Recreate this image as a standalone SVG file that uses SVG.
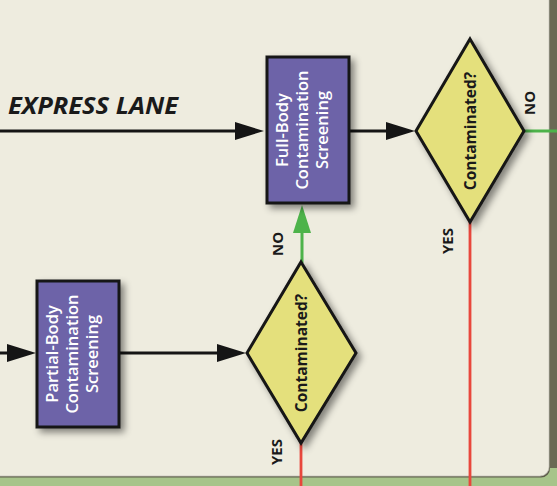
<svg xmlns="http://www.w3.org/2000/svg" width="557" height="486" viewBox="0 0 557 486">
  <style>
    .box { fill: #6d64a8; stroke: #151515; stroke-width: 3; }
    .dia { fill: #e4e07c; stroke: #151515; stroke-width: 3; stroke-linejoin: miter; }
    .btxt { font-family: "Open Sans", "DejaVu Sans", sans-serif; font-weight: 600; font-size: 16.5px; fill: #ffffff; text-anchor: middle; }
    .dtxt { font-family: "Open Sans", "DejaVu Sans", sans-serif; font-weight: 700; font-size: 15.5px; fill: #1a1a1a; text-anchor: middle; }
    .lbl { font-family: "Open Sans", "DejaVu Sans", sans-serif; font-weight: 700; font-size: 15px; fill: #1a1a1a; text-anchor: middle; }
    .title { font-family: "Open Sans", "DejaVu Sans", sans-serif; font-weight: 700; font-style: italic; font-size: 23px; fill: #1a1a1a; }
    .blk { stroke: #151515; stroke-width: 3; fill: none; }
    .grn { stroke: #4db34a; stroke-width: 3; fill: none; }
    .red { stroke: #e8473c; stroke-width: 2.8; fill: none; }
  </style>
  <defs>
    <marker id="ahB" markerUnits="userSpaceOnUse" markerWidth="30" markerHeight="20" refX="20" refY="9" orient="auto">
      <path d="M0,0 L29,9 L0,18 Z" fill="#151515"/>
    </marker>
    <marker id="ahG" markerUnits="userSpaceOnUse" markerWidth="30" markerHeight="20" refX="18" refY="9" orient="auto">
      <path d="M0,0 L28,9 L0,18 Z" fill="#4db34a"/>
    </marker>
    <filter id="sh" x="-30%" y="-30%" width="160%" height="160%">
      <feDropShadow dx="4" dy="4" stdDeviation="3.5" flood-color="#000" flood-opacity="0.45"/>
    </filter>
  </defs>

  <!-- background -->
  <rect x="0" y="0" width="557" height="486" fill="#a7c48a"/>
  <rect x="549" y="0" width="8" height="468" fill="#6a6954"/>
  <path d="M0,-5 H550 V468 A9,9 0 0 1 541,477.5 H0 Z" fill="#5d5c4a"/>
  <path d="M-2,-5 H549 V466 A9,9 0 0 1 540,476 H-2 Z" fill="#eeecdf" stroke="#c9c8bc" stroke-width="0.8"/>

  <text class="title" x="8" y="114" textLength="170" lengthAdjust="spacingAndGlyphs">EXPRESS LANE</text>

  <g id="connectors">
    <line class="blk" x1="0" y1="131" x2="255" y2="131" marker-end="url(#ahB)"/>
    <line class="blk" x1="349" y1="131" x2="406" y2="131" marker-end="url(#ahB)"/>
    <line class="blk" x1="0" y1="353" x2="27" y2="353" marker-end="url(#ahB)"/>
    <line class="blk" x1="119" y1="353" x2="237" y2="353" marker-end="url(#ahB)"/>
    <line class="grn" x1="302" y1="263" x2="302" y2="215" marker-end="url(#ahG)"/>
    <line class="grn" x1="522" y1="131" x2="557" y2="131"/>
    <line class="red" x1="470" y1="222" x2="470" y2="486"/>
    <line class="red" x1="301" y1="443" x2="301" y2="486"/>
    <text class="lbl" transform="translate(535,103) rotate(-90)" x="0" y="0">NO</text>
    <text class="lbl" transform="translate(453,241) rotate(-90)" x="0" y="0">YES</text>
    <text class="lbl" transform="translate(283,244) rotate(-90)" x="0" y="0">NO</text>
    <text class="lbl" transform="translate(282,452) rotate(-90)" x="0" y="0">YES</text>
  </g>

  <g id="full-body">
    <rect class="box" x="267" y="57" width="82" height="146" filter="url(#sh)"/>
    <g transform="translate(308,130) rotate(-90)">
      <text class="btxt" x="0" y="-20">Full-Body</text>
      <text class="btxt" x="0" y="0">Contamination</text>
      <text class="btxt" x="0" y="20">Screening</text>
    </g>
  </g>

  <g id="decision-top">
    <polygon class="dia" points="470,39 524,131 470,222 416,131" filter="url(#sh)"/>
    <text class="dtxt" transform="translate(470,131) rotate(-90)" x="0" y="5.5">Contaminated?</text>
  </g>

  <g id="partial-body">
    <rect class="box" x="37" y="281" width="82" height="146" filter="url(#sh)"/>
    <g transform="translate(78,354) rotate(-90)">
      <text class="btxt" x="0" y="-20">Partial-Body</text>
      <text class="btxt" x="0" y="0">Contamination</text>
      <text class="btxt" x="0" y="20">Screening</text>
    </g>
  </g>

  <g id="decision-bottom">
    <polygon class="dia" points="301,262 356,353 301,443 247,353" filter="url(#sh)"/>
    <text class="dtxt" transform="translate(301,353) rotate(-90)" x="0" y="5.5">Contaminated?</text>
  </g>
</svg>
